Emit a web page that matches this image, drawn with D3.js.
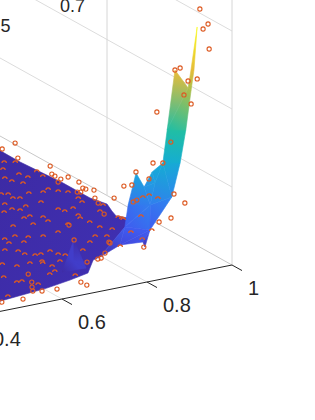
<!DOCTYPE html>
<html>
<head>
<meta charset="utf-8">
<script src="https://cdn.jsdelivr.net/npm/d3@7"></script>
<style>
  html, body { margin: 0; background: #fff; }
  svg { display: block; }
  text { font-family: 'Liberation Sans', Arial, sans-serif; fill: #262626; }
</style>
</head>
<body>
<svg width="315" height="420"></svg>
<script>
// surface vertices
const surfaceX = [.928,.922,.94,.941,.877,.976,.944,.997,.967,.974,.947,.945,.94,.926,.898,.894,.876,.869,.82,.772,.86,.924,
  .95,.949,.958,.958,.959,.948,.94,.942,.455,.603,.668,.716,.756,.792,.677,.726,.917,.926,.789,.697];
const surfaceY = [.034,.039,.123,.15,.038,.288,.328,.405,.441,.393,.436,.452,.499,.516,.484,.296,.275,.267,.284,.281,.381,.396,
  1.765,1.522,1.208,.993,.86,.784,.723,.635,.083,.131,.167,.187,.281,.558,.261,.236,.046,.604,.34,.234];
const surfaceZ = [3.1,2.55,2.2,2.2,2.6,1.5,1.5,.95,.95,.55,.72,.85,.62,.8,.45,.3,.12,.2,.2,.1,.3,.5,
  .02,.02,.02,.02,.06,.05,.05,.1,.02,.02,.02,.04,.08,.05,.03,.05,2.55,.03,.03,.16];
const surfaceFaces = [
  [22,23,24,25,26,27,28,29,39,40,34,33,32,31,30],
  [36,35,41], [35,37,41], [36,41,37],
  [19,20,18], [20,14,21], [20,21,15], [20,15,18], [18,15,17], [17,15,16],
  [14,13,12,21], [21,15,9], [21,10,8,9], [21,12,10], [12,11,10], [10,11,8],
  [8,7,9], [8,6,5,7], [6,3,2,5], [6,4,3], [3,38,1,2], [38,0,1]
];

// markers sitting in the flat part, only the upper half shows
const planeLevel = 0.03;
const arcX = [.916,.935,.892,.904,.867,.87,.91,.883,.939,.944,.811,.823,.89,.908,.862,.819,.831,.786,.855,.919,.933,.932,.926,
  .783,.794,.816,.76,.776,.792,.812,.808,.773,.732,.863,.868,.892,.879,.873,.877,.929,.953,.942,.945,.833,.791,.753,.724,.704,
  .843,.863,.879,.677,.672,.701,.663,.643,.665,.68,.693,.718,.723,.732,.815,.778,.595,.614,.646,.673,.668,.675,.704,.664,.557,
  .646,.576,.564,.595,.687,.505];
const arcY = [1.537,1.513,1.465,1.378,1.365,1.319,1.327,1.274,1.306,1.371,1.204,1.189,1.137,1.158,1.156,1.137,1.122,1.09,1.035,
  1.115,1.084,.999,.948,1.022,.995,1.024,1.007,.902,.91,.872,.819,.819,.84,.925,.889,.904,.819,.783,.72,.815,.872,.713,.694,.745,
  .681,.671,.692,.73,.561,.535,.646,.72,.669,.648,.565,.603,.519,.487,.485,.497,.449,.423,.508,.438,.461,.408,.413,.408,.385,.334,
  .37,.275,.32,.254,.239,.239,.174,.19,.11];

// half markers on the raised blue part
const raisedArcX = [.945,.95,.968,.919,.864,.874,.879,.853,.894,.814];
const raisedArcY = [.526,.493,.484,.453,.346,.29,.459,.459,.281,.262];
const raisedArcZ = [.45,.5,.45,.3,.25,.2,.3,.2,.3,.2];

// whole markers near the floor
const ringX = [.997,.956,.955,.986,.964,.963,.964,.95,.983,.986,.974,.976,.958,.952,.987,.964,.954,.997,.93,.835,.85,.851,.81,.788,
  .779,.751,.612,.593,.578,.567,.583,.615,.678,.679,.479,.525];
const ringY = [1.725,1.689,1.56,1.407,1.319,1.291,1.247,1.221,1.253,1.177,1.105,1.088,1.067,1.075,1.06,.974,.914,.933,.785,.743,
  .466,.478,.37,.326,.322,.313,.311,.218,.165,.121,.102,.091,.114,.07,.07,.057];

// whole markers higher up
const raisedRingX = [.94,.956,.944,.953,.877,.88,.914,.924,.912,.885,.945,.937,.955,.938,.917,.942,.93,.913,.99,.987,.98,.947,.874,.916,.916,.744];
const raisedRingY = [.053,.042,.041,.023,.038,.007,.059,.02,.085,.21,.14,.275,.4,.421,.486,.467,.563,.569,.343,.42,.42,.403,.277,.505,.476,.393];
const raisedRingZ = [3.3,3.1,3.05,2.8,2.6,2.65,2.4,2.45,2.2,1.9,2,1.4,1,1,.85,.75,.6,.6,.5,.55,.25,.25,.12,.45,.5,.25];

const xTicks = [0.4, 0.6, 0.8, 1];
const xTickLabels = ['0.4', '0.6', '0.8', '1'];
const wallLevels = [0, 1, 2, 3];
const wallVerticals = [0, 1];
const topTicks = [0.5, 0.7];
const topTickLabels = ['0.5', '0.7'];
const colorLevels = [0, .1, .25, .55, .8, 1.2, 1.5, 1.9, 2.3, 2.6, 3.1];
const colorSteps = ['#3d29a0', '#3f2fb0', '#4353f0', '#2d88ee', '#1ba6dc', '#0cb5c5', '#20bea5', '#6cc46a', '#c4bd40', '#ecbc38', '#f9fb15'];

const svg = d3.select('svg');

// oblique view: each data axis adds its own screen shift
const xToLeft = d3.scaleLinear().domain([0, 1]).range([-193, 232]);
const xToTop = d3.scaleLinear().domain([0, 1]).range([350, 265]);
const yToLeft = d3.scaleLinear().domain([0, 1]).range([0, -125]);
const yToTop = d3.scaleLinear().domain([0, 1]).range([0, -69.5]);
const zToTop = d3.scaleLinear().domain([0, 1]).range([0, -78]);
const project = (x, y, z) => [xToLeft(x) + yToLeft(y), xToTop(x) + yToTop(y) + zToTop(z)];

const color = d3.scaleLinear().domain(colorLevels).range(colorSteps);

const line = d3.line();
const grid = svg.append('g').attr('fill', 'none');

// wall grid
grid.selectAll('.level')
  .data(wallLevels)
  .enter()
  .append('path')
  .attr('class', 'level')
  .attr('d', d => line([project(1, 0, d), project(1, 2.2, d)]))
  .attr('stroke', d => (d === 0 ? '#c8c8c8' : '#dcdcdc'));

grid.selectAll('.upright')
  .data(wallVerticals)
  .enter()
  .append('path')
  .attr('class', 'upright')
  .attr('d', d => line([project(1, d, 0), project(1, d, 4)]))
  .attr('stroke', '#d6d6d6');

// floor grid
grid.selectAll('.floor')
  .data(xTicks.slice(0, 3))
  .enter()
  .append('path')
  .attr('class', 'floor')
  .attr('d', d => line([project(d, 0, 0), project(d, 1, 0)]))
  .attr('stroke', '#e0e0e0');

// surface
const defs = svg.append('defs');
const facePoints = surfaceFaces.map(f => f.map(i => project(surfaceX[i], surfaceY[i], surfaceZ[i])));

surfaceFaces.forEach((f, n) => {
  const low = d3.least(f, i => surfaceZ[i]);
  const high = d3.greatest(f, i => surfaceZ[i]);
  const a = project(surfaceX[low], surfaceY[low], surfaceZ[low]);
  const b = project(surfaceX[high], surfaceY[high], surfaceZ[high]);
  const grad = defs.append('linearGradient')
    .attr('id', `face${n}`)
    .attr('gradientUnits', 'userSpaceOnUse')
    .attr('x1', a[0]).attr('y1', a[1])
    .attr('x2', b[0]).attr('y2', b[1]);
  grad.append('stop').attr('offset', 0).attr('stop-color', color(surfaceZ[low]));
  grad.append('stop').attr('offset', 1).attr('stop-color', color(surfaceZ[high]));
});

svg.append('g')
  .selectAll('path')
  .data(facePoints)
  .enter()
  .append('path')
  .attr('d', d => line(d) + 'Z')
  .attr('fill', (d, i) => `url(#face${i})`)
  .attr('stroke', (d, i) => `url(#face${i})`)
  .attr('stroke-width', 0.6)
  .attr('stroke-linejoin', 'round');

// markers
const markerColor = '#dd5a22';
const halfRing = d3.arc()
  .innerRadius(1.6)
  .outerRadius(2.8)
  .startAngle(-Math.PI / 2)
  .endAngle(Math.PI / 2);

const arcs = arcX.map((x, i) => project(x, arcY[i], planeLevel))
  .concat(raisedArcX.map((x, i) => project(x, raisedArcY[i], raisedArcZ[i])));

svg.append('g')
  .selectAll('path')
  .data(arcs)
  .enter()
  .append('path')
  .attr('d', halfRing())
  .attr('transform', d => `translate(${d[0]},${d[1]})`)
  .attr('fill', markerColor);

const rings = ringX.map((x, i) => project(x, ringY[i], planeLevel))
  .concat(raisedRingX.map((x, i) => project(x, raisedRingY[i], raisedRingZ[i])));

svg.append('g')
  .selectAll('circle')
  .data(rings)
  .enter()
  .append('circle')
  .attr('cx', d => d[0])
  .attr('cy', d => d[1])
  .attr('r', 2.1)
  .attr('fill', 'none')
  .attr('stroke', markerColor)
  .attr('stroke-width', 1.1);

// x axis
const axis = svg.append('g').attr('fill', 'none').attr('stroke', '#262626');
axis.append('path').attr('d', line([project(0, 0, 0), project(1, 0, 0)]));
axis.selectAll('.tick')
  .data(xTicks)
  .enter()
  .append('path')
  .attr('class', 'tick')
  .attr('d', d => line([project(d, 0, 0), project(d, -0.08, 0)]));

svg.append('g')
  .selectAll('text')
  .data(xTicks)
  .enter()
  .append('text')
  .attr('x', d => project(d, 0, 0)[0] + 16)
  .attr('y', d => project(d, 0, 0)[1] + 30)
  .attr('font-size', 20)
  .text((d, i) => xTickLabels[i]);

// labels of the far axis, cut by the window
const topLeft = d3.scaleLinear().domain([0.5, 0.7]).range([-14.4, 60]);
const topBase = d3.scaleLinear().domain([0.5, 0.7]).range([32, 12]);
svg.append('g')
  .selectAll('text')
  .data(topTicks)
  .enter()
  .append('text')
  .attr('x', d => topLeft(d))
  .attr('y', d => topBase(d))
  .attr('font-size', 18)
  .text((d, i) => topTickLabels[i]);
</script>
</body>
</html>
